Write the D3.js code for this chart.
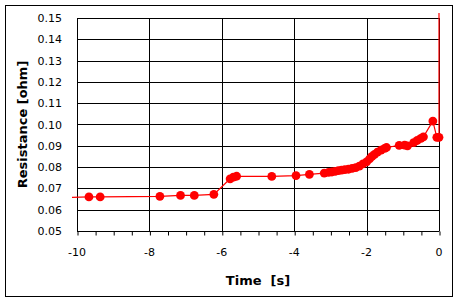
<!DOCTYPE html>
<html><head><meta charset="utf-8">
<script src="https://cdn.jsdelivr.net/npm/d3@7"></script>
<style>
html,body{margin:0;padding:0;background:#fff;}
svg{display:block;}
text{font-family:"DejaVu Sans",sans-serif;}
</style></head>
<body>
<script>
// Data
const timeS = [-10.5,-9.67,-9.36,-7.71,-7.14,-6.76,-6.22,-5.77,-5.68,-5.59,-4.62,-3.95,-3.58,-3.17,-3.05,-2.96,-2.87,-2.78,-2.69,-2.6,-2.5,-2.4,-2.3,-2.2,-2.1,-2.0,-1.92,-1.85,-1.78,-1.7,-1.6,-1.5,-1.45,-1.1,-0.95,-0.87,-0.7,-0.6,-0.5,-0.43,-0.17,-0.06,0,0];
const resistance = [0.0656,0.0660,0.0660,0.0663,0.0667,0.0667,0.0672,0.0745,0.0753,0.0757,0.0756,0.0760,0.0766,0.0772,0.0775,0.0777,0.0780,0.0783,0.0786,0.0788,0.0790,0.0794,0.0798,0.0805,0.0815,0.0825,0.0838,0.0850,0.0860,0.0870,0.0880,0.0888,0.0892,0.0902,0.0903,0.0900,0.0915,0.0925,0.0935,0.0942,0.1016,0.0940,0.0940,0.2000];
const xTicks = [-10,-8,-6,-4,-2,0];
const xMinorTicks = [-10,-9.5,-9,-8.5,-8,-7.5,-7,-6.5,-6,-5.5,-5,-4.5,-4,-3.5,-3,-2.5,-2,-1.5,-1,-0.5,0];
const yTicks = [0.05,0.06,0.07,0.08,0.09,0.10,0.11,0.12,0.13,0.14,0.15];
const xTitle = "Time  [s]";
const yTitle = "Resistance [ohm]";

const W = 459, H = 303;
const L = 77, R = 439, T = 18, B = 231;
const svg = d3.select("body").append("svg").attr("width", W).attr("height", H);

svg.append("rect").attr("x",5.5).attr("y",5.5).attr("width",447).attr("height",291)
  .attr("fill","#fff").attr("stroke","#000").attr("stroke-width",1);

const x = d3.scaleLinear().domain([-10,0]).range([L,R]);
const y = d3.scaleLinear().domain([0.05,0.15]).range([B,T]);

// horizontal gridlines
svg.append("g").selectAll("line").data(yTicks).join("line")
  .attr("x1",L).attr("x2",R)
  .attr("y1",d=>Math.round(y(d))+0.5).attr("y2",d=>Math.round(y(d))+0.5)
  .attr("stroke","#000").attr("stroke-width",1);
// vertical gridlines
svg.append("g").selectAll("line").data(xTicks).join("line")
  .attr("x1",d=>Math.round(x(d))+0.5).attr("x2",d=>Math.round(x(d))+0.5)
  .attr("y1",T).attr("y2",B)
  .attr("stroke","#000").attr("stroke-width",1);

// x axis
const xAxis = d3.axisBottom(x).tickValues(xMinorTicks).tickSize(4).tickFormat("");
const gx = svg.append("g").attr("transform",`translate(0.5,${Math.round(B)+0.5})`).call(xAxis);
gx.select(".domain").attr("stroke","#000").attr("d",`M${L},0H${R}`);
gx.selectAll(".tick line").attr("stroke","#000");
svg.append("g").selectAll("text").data(xTicks).join("text")
  .attr("x",d=>x(d)).attr("y",256)
  .attr("text-anchor","middle").attr("font-size",11).attr("fill","#000")
  .text(d=>String(d));

// y axis
svg.append("line").attr("x1",L+0.5).attr("x2",L+0.5).attr("y1",T).attr("y2",B+1)
  .attr("stroke","#000");
svg.append("g").selectAll("text").data(yTicks).join("text")
  .attr("x",62).attr("y",d=>y(d)+4)
  .attr("text-anchor","end").attr("font-size",11).attr("fill","#000")
  .text(d=>d.toFixed(2));

// titles
svg.append("text").attr("x",(L+R)/2).attr("y",285).attr("text-anchor","middle")
  .attr("font-size",13).attr("font-weight","bold").style("white-space","pre").text(xTitle);
svg.append("text").attr("transform",`translate(27,${(T+B)/2}) rotate(-90)`)
  .attr("text-anchor","middle").attr("font-size",13).attr("font-weight","bold").text(yTitle);

// clip
svg.append("clipPath").attr("id","clip").append("rect")
  .attr("x",L-5).attr("y",T-5).attr("width",R-L+10).attr("height",B-T+10);

const pts = timeS.map((t,i)=>({t, v: resistance[i]}));
const line = d3.line().x(d=>x(d.t)).y(d=>y(d.v));
const g = svg.append("g").attr("clip-path","url(#clip)");
g.append("path").datum(pts).attr("d",line).attr("fill","none")
  .attr("stroke","#ff0000").attr("stroke-width",1.2);
g.selectAll("circle").data(pts).join("circle")
  .attr("cx",d=>x(d.t)).attr("cy",d=>y(d.v)).attr("r",4.4).attr("fill","#ff0000");
</script>
</body></html>
